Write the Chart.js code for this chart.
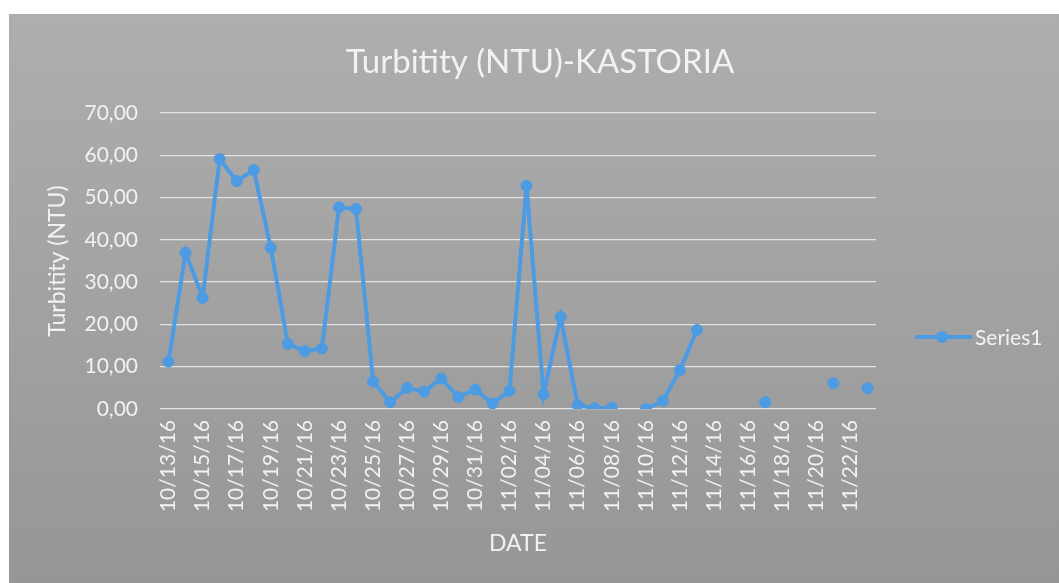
<!DOCTYPE html>
<html>
<head>
<meta charset="utf-8">
<script src="https://cdn.jsdelivr.net/npm/chart.js@4.4.1/dist/chart.umd.min.js"></script>
<style>
html,body{margin:0;padding:0;background:#fff;overflow:hidden}
#wrap{width:1059px;height:583px;position:relative}
canvas{display:block}
</style>
</head>
<body>
<div id="wrap"><canvas id="c" width="1059" height="583"></canvas></div>
<script>
// ---- data ----
const dates = [
  '10/13/16','10/14/16','10/15/16','10/16/16','10/17/16','10/18/16','10/19/16',
  '10/20/16','10/21/16','10/22/16','10/23/16','10/24/16','10/25/16','10/26/16',
  '10/27/16','10/28/16','10/29/16','10/30/16','10/31/16','11/01/16','11/02/16',
  '11/03/16','11/04/16','11/05/16','11/06/16','11/07/16','11/08/16','11/09/16',
  '11/10/16','11/11/16','11/12/16','11/13/16','11/14/16','11/15/16','11/16/16',
  '11/17/16','11/18/16','11/19/16','11/20/16','11/21/16','11/22/16','11/23/16'
];
const turbidity = [
  11.2, 37.0, 26.3, 59.1, 53.9, 56.5, 38.1,
  15.4, 13.7, 14.3, 47.7, 47.3, 6.5, 1.6,
  5.0, 4.1, 7.2, 2.8, 4.6, 1.3, 4.3,
  52.8, 3.5, 21.8, 0.9, 0.2, 0.3, null,
  0.0, 1.9, 9.2, 18.7, null, null, null,
  1.6, null, null, null, 6.1, null, 4.9
];
const yMin = 0, yMax = 70, yStep = 10;
const chartTitle = 'Turbitity (NTU)-KASTORIA';
const yTitle = 'Turbitity (NTU)';
const xTitle = 'DATE';
const seriesName = 'Series1';

// ---- styles ----
const blue = '#4d9be3';
const textCol = '#f2f2f2';
const FONT = 'Lato, "Open Sans", sans-serif';

const bgPlugin = {
  id: 'bg',
  beforeDraw(chart) {
    const ctx = chart.ctx;
    ctx.save();
    ctx.fillStyle = '#ffffff';
    ctx.fillRect(0, 0, chart.width, chart.height);
    const g = ctx.createLinearGradient(0, 14, 0, chart.height);
    g.addColorStop(0, '#aeaeae');
    g.addColorStop(1, '#969696');
    ctx.fillStyle = g;
    ctx.fillRect(9, 14, chart.width - 9, chart.height - 14);
    ctx.restore();
  }
};

const titlePlugin = {
  id: 'xlTitle',
  afterDraw(chart) {
    const ctx = chart.ctx;
    ctx.save();
    ctx.fillStyle = textCol;
    ctx.font = '33px ' + FONT;
    ctx.textAlign = 'center';
    ctx.textBaseline = 'middle';
    ctx.fillText(chartTitle, 540, 62);
    ctx.restore();
  }
};

const legendPlugin = {
  id: 'xlLegend',
  afterDraw(chart) {
    const ds = chart.data.datasets[0];
    const ca = chart.chartArea;
    const ctx = chart.ctx;
    const x0 = ca.right + 39, y = ca.bottom - 72;
    ctx.save();
    ctx.strokeStyle = ds.borderColor;
    ctx.lineWidth = 4;
    ctx.beginPath();
    ctx.moveTo(x0, y);
    ctx.lineTo(x0 + 57, y);
    ctx.stroke();
    ctx.fillStyle = ds.pointBackgroundColor;
    ctx.beginPath();
    ctx.arc(x0 + 27, y, 6, 0, Math.PI * 2);
    ctx.fill();
    ctx.fillStyle = textCol;
    ctx.font = '21px ' + FONT;
    ctx.textBaseline = 'middle';
    ctx.textAlign = 'left';
    ctx.fillText(ds.label, x0 + 60, y + 1);
    ctx.restore();
  }
};

new Chart(document.getElementById('c'), {
  type: 'line',
  data: {
    labels: dates,
    datasets: [{
      label: seriesName,
      data: turbidity,
      borderColor: blue,
      backgroundColor: blue,
      pointBackgroundColor: blue,
      pointBorderColor: blue,
      borderWidth: 4,
      pointRadius: 5.5,
      pointBorderWidth: 1,
      tension: 0,
      spanGaps: false
    }]
  },
  options: {
    responsive: false,
    animation: false,
    devicePixelRatio: 1,
    layout: { padding: { top: 113, left: 20, right: 183, bottom: 0 } },
    plugins: {
      legend: { display: false },
      tooltip: { enabled: false },
      title: { display: false }
    },
    scales: {
      x: {
        offset: true,
        grid: { display: false, drawTicks: false },
        border: { display: false },
        afterFit(scale) { scale.height = 174; },
        ticks: {
          autoSkip: false,
          maxRotation: 90,
          minRotation: 90,
          padding: 11,
          color: textCol,
          font: { family: FONT, size: 21 },
          callback(value, index) { return index % 2 === 0 ? this.getLabelForValue(value) : ''; }
        },
        title: {
          display: true,
          text: xTitle,
          color: textCol,
          font: { family: FONT, size: 23 },
          padding: { top: 0, bottom: 26 }
        }
      },
      y: {
        min: yMin,
        max: yMax,
        grid: { color: '#e2e2e2', lineWidth: 1.3, drawTicks: false },
        border: { display: false },
        afterFit(scale) { scale.width = 140; },
        ticks: {
          stepSize: yStep,
          padding: 22,
          color: textCol,
          font: { family: FONT, size: 21 },
          callback(v) { return v.toFixed(2).replace('.', ','); }
        },
        title: {
          display: true,
          text: yTitle,
          color: textCol,
          font: { family: FONT, size: 23 },
          padding: { top: 24, bottom: 0 }
        }
      }
    }
  },
  plugins: [bgPlugin, titlePlugin, legendPlugin]
});
</script>
</body>
</html>
